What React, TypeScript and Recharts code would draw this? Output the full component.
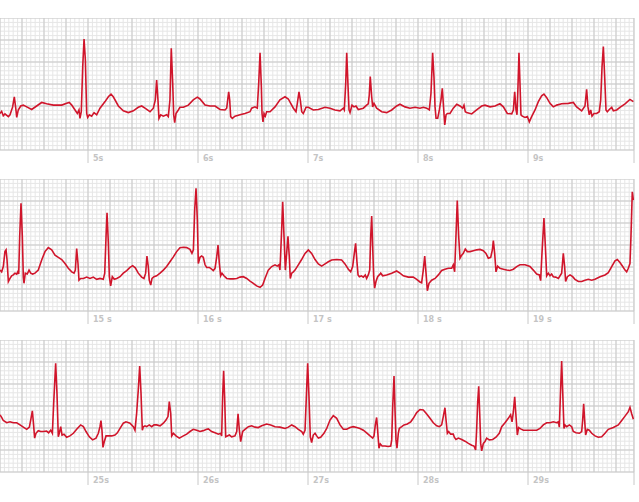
import React from 'react';
import { LineChart, Line, XAxis, YAxis, CartesianGrid } from 'recharts';

// ECG strips: [seconds, mV]
const strip1: [number, number][] = [
  [4.2, -0.67], [4.215, -0.62], [4.23, -0.72], [4.245, -0.68], [4.276, -0.74], [4.291, -0.7], [4.315, -0.52],
  [4.33, -0.29], [4.345, -0.59], [4.352, -0.76], [4.366, -0.59], [4.388, -0.5], [4.412, -0.48], [4.443, -0.52],
  [4.488, -0.58], [4.533, -0.5], [4.579, -0.42], [4.624, -0.45], [4.685, -0.48], [4.761, -0.48], [4.806, -0.44],
  [4.83, -0.42], [4.852, -0.48], [4.882, -0.59], [4.903, -0.67], [4.918, -0.59], [4.927, -0.78], [4.939, -0.63],
  [4.952, 0.39], [4.964, 1.02], [4.976, 0.55], [4.988, -0.67], [4.997, -0.76], [5.012, -0.7], [5.033, -0.73],
  [5.055, -0.65], [5.079, -0.7], [5.109, -0.55], [5.155, -0.4], [5.185, -0.29], [5.209, -0.23], [5.23, -0.29],
  [5.276, -0.5], [5.321, -0.61], [5.367, -0.65], [5.412, -0.61], [5.457, -0.53], [5.488, -0.5], [5.518, -0.55],
  [5.564, -0.63], [5.594, -0.55], [5.612, -0.36], [5.624, 0.09], [5.636, -0.36], [5.645, -0.78], [5.661, -0.7],
  [5.685, -0.73], [5.715, -0.7], [5.73, -0.74], [5.745, -0.36], [5.757, 0.81], [5.77, 0.02], [5.779, -0.7],
  [5.788, -0.88], [5.8, -0.67], [5.821, -0.59], [5.836, -0.53], [5.867, -0.53], [5.912, -0.48], [5.957, -0.36],
  [5.994, -0.3], [6.018, -0.34], [6.064, -0.48], [6.109, -0.5], [6.155, -0.5], [6.2, -0.58], [6.245, -0.59],
  [6.261, -0.55], [6.27, -0.36], [6.279, -0.18], [6.288, -0.36], [6.297, -0.74], [6.312, -0.78], [6.336, -0.73],
  [6.382, -0.7], [6.427, -0.67], [6.473, -0.63], [6.488, -0.55], [6.518, -0.52], [6.539, -0.55], [6.552, 0.02],
  [6.564, 0.71], [6.576, -0.06], [6.582, -0.67], [6.591, -0.86], [6.6, -0.67], [6.612, -0.73], [6.624, -0.63],
  [6.655, -0.63], [6.7, -0.52], [6.745, -0.36], [6.791, -0.29], [6.821, -0.34], [6.867, -0.55], [6.891, -0.63],
  [6.903, -0.44], [6.918, -0.18], [6.93, -0.36], [6.943, -0.63], [6.957, -0.67], [6.982, -0.53], [7.003, -0.53],
  [7.048, -0.59], [7.094, -0.58], [7.155, -0.53], [7.2, -0.55], [7.245, -0.59], [7.291, -0.61], [7.321, -0.55],
  [7.33, -0.59], [7.343, 0.02], [7.352, 0.71], [7.364, -0.06], [7.373, -0.59], [7.382, -0.65], [7.4, -0.48],
  [7.418, -0.52], [7.436, -0.5], [7.457, -0.58], [7.503, -0.55], [7.533, -0.48], [7.548, -0.45], [7.557, -0.25],
  [7.566, 0.17], [7.579, -0.29], [7.588, -0.52], [7.6, -0.44], [7.624, -0.55], [7.67, -0.63], [7.715, -0.65],
  [7.761, -0.59], [7.806, -0.5], [7.836, -0.46], [7.882, -0.52], [7.927, -0.55], [7.973, -0.53], [8.018, -0.55],
  [8.048, -0.53], [8.079, -0.55], [8.103, -0.59], [8.118, -0.21], [8.133, 0.71], [8.145, 0.17], [8.155, -0.52],
  [8.164, -0.78], [8.179, -0.78], [8.194, -0.59], [8.209, -0.36], [8.221, -0.1], [8.234, -0.59], [8.243, -0.93],
  [8.255, -0.7], [8.267, -0.67], [8.291, -0.67], [8.321, -0.55], [8.352, -0.46], [8.382, -0.5], [8.406, -0.55],
  [8.418, -0.48], [8.43, -0.63], [8.442, -0.65], [8.488, -0.68], [8.533, -0.59], [8.579, -0.5], [8.609, -0.48],
  [8.655, -0.52], [8.7, -0.5], [8.745, -0.45], [8.776, -0.52], [8.812, -0.67], [8.852, -0.68], [8.867, -0.59],
  [8.879, -0.18], [8.891, -0.59], [8.9, -0.7], [8.909, -0.06], [8.918, 0.71], [8.927, 0.02], [8.936, -0.7],
  [8.948, -0.73], [8.973, -0.76], [8.994, -0.74], [9.012, -0.86], [9.033, -0.74], [9.064, -0.59], [9.094, -0.4],
  [9.124, -0.27], [9.145, -0.23], [9.17, -0.31], [9.2, -0.44], [9.23, -0.52], [9.261, -0.48], [9.306, -0.45],
  [9.367, -0.44], [9.412, -0.42], [9.442, -0.52], [9.488, -0.61], [9.518, -0.5], [9.533, -0.12], [9.545, -0.52],
  [9.557, -0.7], [9.57, -0.59], [9.582, -0.73], [9.6, -0.67], [9.624, -0.67], [9.648, -0.63], [9.661, -0.36],
  [9.673, 0.39], [9.685, 0.85], [9.697, 0.17], [9.709, -0.59], [9.721, -0.63], [9.739, -0.58], [9.761, -0.53],
  [9.776, -0.61], [9.806, -0.59], [9.836, -0.53], [9.882, -0.45], [9.927, -0.35], [9.958, -0.4],
];

const strip2: [number, number][] = [
  [14.2, -0.57], [14.215, -0.61], [14.23, -0.49], [14.245, -0.15], [14.255, -0.11], [14.264, -0.34],
  [14.276, -0.83], [14.291, -0.76], [14.306, -0.7], [14.321, -0.68], [14.336, -0.64], [14.352, -0.66],
  [14.361, -0.61], [14.37, -0.66], [14.379, 0.19], [14.391, 0.95], [14.403, 0.19], [14.412, -0.72],
  [14.418, -0.87], [14.43, -0.64], [14.448, -0.66], [14.464, -0.57], [14.479, -0.64], [14.497, -0.66],
  [14.518, -0.64], [14.548, -0.57], [14.579, -0.34], [14.609, -0.15], [14.639, -0.06], [14.67, -0.11],
  [14.7, -0.23], [14.73, -0.28], [14.761, -0.33], [14.791, -0.42], [14.821, -0.53], [14.852, -0.61],
  [14.873, -0.64], [14.885, -0.57], [14.897, -0.08], [14.909, -0.42], [14.918, -0.8], [14.933, -0.76],
  [14.958, -0.76], [14.988, -0.73], [15.018, -0.76], [15.048, -0.73], [15.079, -0.78], [15.109, -0.76],
  [15.139, -0.78], [15.152, -0.64], [15.164, 0.19], [15.173, 0.73], [15.185, 0.04], [15.194, -0.72],
  [15.206, -0.93], [15.221, -0.72], [15.239, -0.78], [15.261, -0.76], [15.291, -0.72], [15.321, -0.64],
  [15.352, -0.58], [15.382, -0.51], [15.406, -0.47], [15.43, -0.52], [15.457, -0.64], [15.488, -0.73],
  [15.509, -0.76], [15.524, -0.64], [15.536, -0.25], [15.548, -0.49], [15.557, -0.8], [15.57, -0.91],
  [15.582, -0.76], [15.6, -0.72], [15.624, -0.7], [15.655, -0.64], [15.685, -0.57], [15.715, -0.49],
  [15.745, -0.38], [15.776, -0.27], [15.806, -0.15], [15.836, -0.06], [15.867, -0.05], [15.897, -0.06],
  [15.927, -0.1], [15.945, -0.19], [15.958, -0.11], [15.97, 0.8], [15.982, 1.29], [15.994, 0.57],
  [16.003, -0.42], [16.018, -0.28], [16.033, -0.25], [16.048, -0.28], [16.064, -0.45], [16.079, -0.51],
  [16.103, -0.51], [16.124, -0.55], [16.139, -0.58], [16.155, -0.53], [16.17, -0.27], [16.182, 0.0],
  [16.194, -0.42], [16.206, -0.7], [16.218, -0.64], [16.236, -0.7], [16.261, -0.76], [16.291, -0.77],
  [16.321, -0.77], [16.352, -0.76], [16.382, -0.73], [16.412, -0.72], [16.443, -0.76], [16.473, -0.82],
  [16.503, -0.87], [16.533, -0.93], [16.564, -0.96], [16.588, -0.91], [16.609, -0.76], [16.639, -0.57],
  [16.67, -0.49], [16.7, -0.45], [16.721, -0.48], [16.736, -0.45], [16.745, -0.57], [16.758, 0.19],
  [16.77, 0.98], [16.782, 0.19], [16.794, -0.57], [16.806, -0.19], [16.818, 0.2], [16.83, -0.27],
  [16.839, -0.76], [16.852, -0.64], [16.867, -0.61], [16.882, -0.57], [16.912, -0.45], [16.942, -0.33],
  [16.973, -0.19], [17.003, -0.11], [17.033, -0.19], [17.064, -0.33], [17.094, -0.43], [17.124, -0.48],
  [17.155, -0.43], [17.185, -0.38], [17.215, -0.34], [17.261, -0.33], [17.306, -0.34], [17.336, -0.43],
  [17.367, -0.55], [17.388, -0.61], [17.406, -0.49], [17.421, -0.19], [17.433, 0.04], [17.445, -0.38],
  [17.455, -0.68], [17.467, -0.72], [17.485, -0.7], [17.503, -0.73], [17.521, -0.68], [17.533, -0.76],
  [17.548, -0.68], [17.561, -0.57], [17.57, 0.19], [17.579, 0.66], [17.588, -0.04], [17.597, -0.72],
  [17.606, -0.98], [17.618, -0.83], [17.633, -0.72], [17.648, -0.68], [17.661, -0.64], [17.679, -0.7],
  [17.715, -0.68], [17.761, -0.64], [17.806, -0.59], [17.836, -0.64], [17.867, -0.7], [17.912, -0.73],
  [17.957, -0.73], [17.988, -0.78], [18.018, -0.84], [18.033, -0.86], [18.048, -0.57], [18.061, -0.25],
  [18.073, -0.64], [18.085, -1.04], [18.1, -0.87], [18.124, -0.8], [18.155, -0.76], [18.185, -0.68],
  [18.215, -0.58], [18.245, -0.55], [18.276, -0.53], [18.306, -0.53], [18.321, -0.45], [18.333, -0.61],
  [18.345, 0.19], [18.357, 1.01], [18.37, 0.19], [18.382, -0.3], [18.397, -0.23], [18.412, -0.19],
  [18.43, -0.09], [18.448, -0.15], [18.473, -0.15], [18.503, -0.13], [18.533, -0.11], [18.564, -0.1],
  [18.594, -0.13], [18.618, -0.19], [18.639, -0.3], [18.661, -0.28], [18.676, -0.11], [18.685, 0.1],
  [18.697, -0.19], [18.709, -0.61], [18.724, -0.48], [18.745, -0.53], [18.776, -0.55], [18.806, -0.57],
  [18.836, -0.58], [18.867, -0.55], [18.897, -0.49], [18.927, -0.45], [18.973, -0.45], [19.018, -0.49],
  [19.048, -0.57], [19.079, -0.66], [19.103, -0.68], [19.115, -0.81], [19.127, -0.19], [19.145, 0.61],
  [19.158, -0.04], [19.17, -0.7], [19.185, -0.64], [19.2, -0.7], [19.215, -0.66], [19.23, -0.72],
  [19.252, -0.73], [19.276, -0.76], [19.306, -0.64], [19.321, -0.19], [19.333, -0.49], [19.342, -0.83],
  [19.358, -0.72], [19.382, -0.68], [19.406, -0.72], [19.427, -0.78], [19.458, -0.83], [19.488, -0.83],
  [19.518, -0.8], [19.548, -0.78], [19.579, -0.8], [19.609, -0.78], [19.655, -0.72], [19.7, -0.68],
  [19.73, -0.63], [19.761, -0.49], [19.791, -0.36], [19.812, -0.33], [19.836, -0.4], [19.861, -0.49],
  [19.882, -0.57], [19.897, -0.61], [19.912, -0.53], [19.927, -0.42], [19.936, 0.19], [19.948, 1.21],
  [19.958, 1.02],
];

const strip3: [number, number][] = [
  [24.2, -0.2], [24.215, -0.26], [24.23, -0.33], [24.261, -0.38], [24.291, -0.36], [24.321, -0.38],
  [24.352, -0.38], [24.382, -0.43], [24.412, -0.48], [24.443, -0.53], [24.467, -0.48], [24.482, -0.28],
  [24.494, -0.11], [24.503, -0.36], [24.515, -0.73], [24.527, -0.62], [24.548, -0.56], [24.57, -0.58],
  [24.594, -0.58], [24.624, -0.57], [24.642, -0.61], [24.661, -0.55], [24.676, -0.62], [24.688, 0.06],
  [24.706, 0.97], [24.718, 0.29], [24.73, -0.7], [24.739, -0.62], [24.752, -0.47], [24.764, -0.66],
  [24.782, -0.64], [24.806, -0.71], [24.836, -0.68], [24.867, -0.62], [24.897, -0.53], [24.933, -0.43],
  [24.958, -0.47], [24.982, -0.58], [25.012, -0.7], [25.042, -0.77], [25.073, -0.73], [25.094, -0.62],
  [25.109, -0.47], [25.118, -0.33], [25.127, -0.55], [25.136, -0.94], [25.148, -0.81], [25.164, -0.68],
  [25.185, -0.68], [25.215, -0.68], [25.245, -0.66], [25.267, -0.61], [25.291, -0.51], [25.321, -0.39],
  [25.345, -0.36], [25.382, -0.39], [25.412, -0.47], [25.427, -0.55], [25.442, -0.17], [25.457, 0.36],
  [25.47, 0.91], [25.482, 0.29], [25.494, -0.55], [25.503, -0.47], [25.518, -0.45], [25.533, -0.47],
  [25.557, -0.43], [25.579, -0.47], [25.6, -0.43], [25.624, -0.43], [25.655, -0.45], [25.685, -0.39],
  [25.709, -0.32], [25.727, -0.24], [25.739, 0.1], [25.752, -0.17], [25.761, -0.68], [25.776, -0.62],
  [25.8, -0.68], [25.83, -0.73], [25.867, -0.68], [25.897, -0.64], [25.927, -0.58], [25.957, -0.53],
  [25.988, -0.55], [26.018, -0.58], [26.048, -0.56], [26.079, -0.53], [26.094, -0.52], [26.124, -0.58],
  [26.155, -0.61], [26.185, -0.64], [26.206, -0.62], [26.215, -0.68], [26.224, 0.21], [26.233, 0.8],
  [26.242, 0.21], [26.252, -0.7], [26.267, -0.68], [26.285, -0.66], [26.306, -0.7], [26.336, -0.68],
  [26.352, -0.58], [26.364, -0.18], [26.376, -0.55], [26.388, -0.81], [26.406, -0.58], [26.427, -0.53],
  [26.458, -0.47], [26.488, -0.45], [26.518, -0.48], [26.548, -0.49], [26.579, -0.45], [26.624, -0.41],
  [26.661, -0.43], [26.7, -0.47], [26.745, -0.48], [26.791, -0.51], [26.821, -0.48], [26.852, -0.43],
  [26.882, -0.47], [26.912, -0.53], [26.943, -0.58], [26.957, -0.64], [26.973, -0.55], [26.985, 0.21],
  [26.997, 0.97], [27.009, 0.21], [27.021, -0.7], [27.033, -0.83], [27.048, -0.66], [27.064, -0.62],
  [27.079, -0.68], [27.094, -0.73], [27.115, -0.71], [27.145, -0.62], [27.17, -0.51], [27.2, -0.32],
  [27.23, -0.22], [27.261, -0.28], [27.291, -0.43], [27.321, -0.53], [27.352, -0.53], [27.382, -0.49],
  [27.412, -0.47], [27.443, -0.49], [27.473, -0.51], [27.503, -0.55], [27.533, -0.61], [27.564, -0.68],
  [27.588, -0.73], [27.6, -0.68], [27.612, -0.43], [27.624, -0.26], [27.633, -0.55], [27.645, -0.96],
  [27.657, -0.86], [27.673, -0.91], [27.7, -0.91], [27.73, -0.92], [27.752, -0.91], [27.761, -0.77],
  [27.77, -0.02], [27.782, 0.68], [27.791, -0.09], [27.8, -0.77], [27.809, -0.96], [27.821, -0.62],
  [27.83, -0.51], [27.852, -0.47], [27.873, -0.43], [27.903, -0.41], [27.934, -0.36], [27.957, -0.28],
  [27.988, -0.15], [28.018, -0.08], [28.048, -0.09], [28.079, -0.18], [28.109, -0.28], [28.139, -0.38],
  [28.17, -0.45], [28.194, -0.47], [28.215, -0.43], [28.23, -0.24], [28.245, -0.04], [28.255, -0.32],
  [28.267, -0.62], [28.279, -0.58], [28.297, -0.64], [28.321, -0.64], [28.33, -0.71], [28.345, -0.76],
  [28.367, -0.73], [28.397, -0.76], [28.427, -0.8], [28.458, -0.85], [28.488, -0.89], [28.509, -0.91],
  [28.524, -1.0], [28.533, -0.55], [28.542, 0.06], [28.552, 0.45], [28.561, -0.17], [28.57, -0.85],
  [28.579, -1.02], [28.594, -0.85], [28.609, -0.81], [28.624, -0.73], [28.648, -0.77], [28.679, -0.76],
  [28.709, -0.71], [28.739, -0.62], [28.761, -0.47], [28.791, -0.38], [28.821, -0.28], [28.842, -0.2],
  [28.855, -0.36], [28.867, -0.13], [28.879, 0.21], [28.891, -0.24], [28.903, -0.66], [28.915, -0.49],
  [28.933, -0.52], [28.958, -0.55], [28.988, -0.55], [29.033, -0.55], [29.079, -0.55], [29.109, -0.51],
  [29.139, -0.43], [29.17, -0.38], [29.2, -0.38], [29.23, -0.36], [29.261, -0.38], [29.276, -0.36],
  [29.285, -0.48], [29.294, 0.21], [29.306, 1.02], [29.315, 0.36], [29.327, -0.51], [29.336, -0.43],
  [29.352, -0.47], [29.376, -0.43], [29.397, -0.47], [29.412, -0.58], [29.436, -0.61], [29.467, -0.62],
  [29.488, -0.58], [29.497, -0.32], [29.506, 0.05], [29.515, -0.32], [29.524, -0.66], [29.539, -0.53],
  [29.557, -0.55], [29.579, -0.62], [29.609, -0.68], [29.639, -0.71], [29.67, -0.7], [29.7, -0.62],
  [29.73, -0.53], [29.776, -0.49], [29.821, -0.43], [29.852, -0.33], [29.882, -0.23], [29.912, -0.13],
  [29.927, -0.03], [29.942, -0.17], [29.958, -0.3],
];

const strip1Seconds = [5, 6, 7, 8, 9];
const strip1Labels = ['5s', '6s', '7s', '8s', '9s'];
const strip2Seconds = [15, 16, 17, 18, 19];
const strip2Labels = ['15 s', '16 s', '17 s', '18 s', '19 s'];
const strip3Seconds = [25, 26, 27, 28, 29];
const strip3Labels = ['25s', '26s', '27s', '28s', '29s'];

const stripStarts = [4.2, 14.2, 24.2];

// paper: 25 mm/s, 10 mm/mV
const SPAN = 634 / 110;
const MV_MIN = -1.5;
const MV_MAX = 1.5;
const TRACE = '#d0152b';

function steps(from: number, to: number, step: number) {
  const out: number[] = [];
  const n = Math.floor((to - from) / step + 1e-6);
  for (let i = 0; i <= n; i++) out.push(+(from + i * step).toFixed(4));
  return out;
}

interface StripProps {
  top: number;
  start: number;
  points: [number, number][];
  seconds: number[];
  labels: string[];
}

function Strip({ top, start, points, seconds, labels }: StripProps) {
  const end = start + SPAN;
  const data = points.map(([t, v]) => ({ t, v }));
  const minorX = steps(start, end, 0.04);
  const majorX = [...steps(start, end, 0.2), end];
  const minorY = steps(MV_MIN, MV_MAX, 0.1);
  const majorY = steps(MV_MIN, MV_MAX, 0.5);

  const renderTick = (props: any) => {
    const { x, y, payload } = props;
    const i = seconds.indexOf(payload.value);
    return (
      <g>
        <line x1={x} x2={x} y1={y} y2={y + 13} stroke="#c8c8c8" strokeWidth={1} />
        {i >= 0 && (
          <text x={x + 5} y={y + 11} fontSize={8} fontWeight="bold" fill="#c4c4c4"
            fontFamily="DejaVu Sans, sans-serif">
            {labels[i]}
          </text>
        )}
      </g>
    );
  };

  return (
    <div style={{ position: 'absolute', left: 0, top }}>
      <LineChart width={639} height={152} data={data} margin={{ top: 0, right: 5, bottom: 0, left: 0 }}>
        <XAxis xAxisId="minor" dataKey="t" type="number" domain={[start, end]} ticks={minorX}
          interval={0} allowDataOverflow hide />
        <XAxis xAxisId="major" dataKey="t" type="number" domain={[start, end]} ticks={majorX}
          interval={0} allowDataOverflow hide />
        <XAxis
          xAxisId="label"
          dataKey="t"
          type="number"
          domain={[start, end]}
          ticks={[...seconds, end]}
          interval={0}
          allowDataOverflow
          axisLine={false}
          tickLine={false}
          tickSize={0}
          tickMargin={0}
          height={20}
          tick={renderTick}
        />
        <YAxis yAxisId="minor" type="number" domain={[MV_MIN, MV_MAX]} ticks={minorY}
          interval={0} allowDataOverflow hide />
        <YAxis yAxisId="major" type="number" domain={[MV_MIN, MV_MAX]} ticks={majorY}
          interval={0} allowDataOverflow hide />
        <CartesianGrid xAxisId="minor" yAxisId="minor" stroke="#e6e6e6" strokeWidth={1} />
        <CartesianGrid xAxisId="major" yAxisId="major" stroke="#c9c9c9" strokeWidth={1} />
        <Line
          xAxisId="label"
          yAxisId="major"
          dataKey="v"
          type="linear"
          stroke={TRACE}
          strokeWidth={1.6}
          dot={false}
          isAnimationActive={false}
        />
      </LineChart>
    </div>
  );
}

export default function App() {
  return (
    <div style={{ position: 'absolute', left: 0, top: 0, width: 639, height: 502, background: '#fff' }}>
      <Strip top={18} start={stripStarts[0]} points={strip1} seconds={strip1Seconds} labels={strip1Labels} />
      <Strip top={179} start={stripStarts[1]} points={strip2} seconds={strip2Seconds} labels={strip2Labels} />
      <Strip top={340} start={stripStarts[2]} points={strip3} seconds={strip3Seconds} labels={strip3Labels} />
    </div>
  );
}
